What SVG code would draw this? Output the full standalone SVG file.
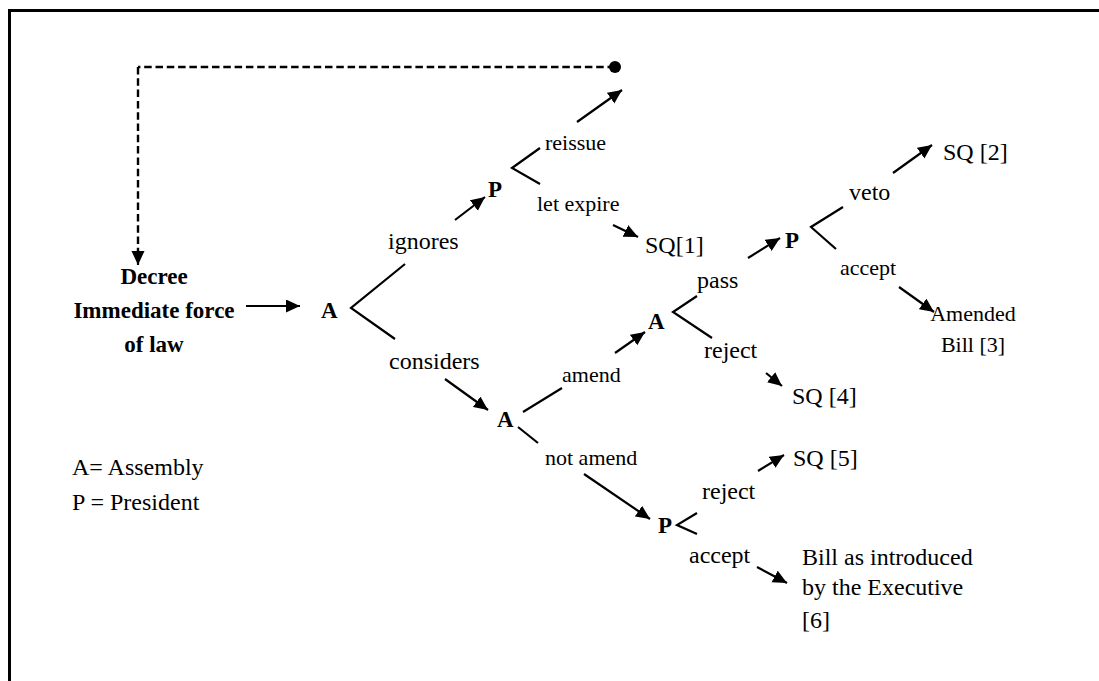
<svg xmlns="http://www.w3.org/2000/svg" width="1099" height="681" viewBox="0 0 1099 681">
  <style>
    .frame { stroke: #000; stroke-width: 3; fill: none; }
    .edge { stroke: #000; stroke-width: 2.2; fill: none; }
    .arrow { stroke: #000; stroke-width: 2.2; fill: none; marker-end: url(#head); }
    .dash { stroke: #000; stroke-width: 2.4; fill: none; stroke-dasharray: 7.5 3.8; }
    text { font-family: "Liberation Serif", "Times New Roman", serif; fill: #000; }
    .lbl { font-size: 22px; }
    .lbl2 { font-size: 24px; }
    .out { font-size: 24px; }
    .actor { font-size: 23px; font-weight: bold; }
    .title { font-size: 23px; font-weight: bold; text-anchor: middle; }
  </style>
  <defs>
    <marker id="head" markerUnits="userSpaceOnUse" markerWidth="16" markerHeight="14" refX="14" refY="6.5" orient="auto">
      <path d="M0,0 L14,6.5 L0,13 z" fill="#000"/>
    </marker>
  </defs>

  <rect width="1099" height="681" fill="#fff"/>

  <!-- frame: top and left rules -->
  <g id="frame">
    <line class="frame" x1="8" y1="10.5" x2="1099" y2="10.5"/>
    <line class="frame" x1="9.5" y1="9" x2="9.5" y2="681"/>
  </g>

  <!-- connectors -->
  <g id="connectors">
    <!-- reissue loop back to the decree -->
    <line class="dash" x1="615" y1="67" x2="138" y2="67"/>
    <line class="dash" x1="138" y1="67" x2="138" y2="252"/>
    <line class="edge" x1="138" y1="250" x2="138" y2="265" marker-end="url(#head)"/>
    <circle cx="615" cy="67" r="6" fill="#000"/>

    <!-- decision forks -->
    <polyline class="edge" points="405,264 351,308 395,339"/>
    <polyline class="edge" points="540,148 512,168 540,184"/>
    <line class="edge" x1="523" y1="412" x2="562" y2="388"/>
    <line class="edge" x1="518" y1="427" x2="538" y2="443"/>
    <polyline class="edge" points="697,296 673,312 712,338"/>
    <polyline class="edge" points="843,207 811,227 836,249"/>
    <polyline class="edge" points="697,513 677,525 697,534"/>

    <!-- arrows -->
    <line class="arrow" x1="246" y1="306" x2="300" y2="306"/>
    <line class="arrow" x1="455" y1="220" x2="485" y2="197"/>
    <line class="arrow" x1="577" y1="122" x2="622" y2="90"/>
    <line class="arrow" x1="613" y1="225" x2="638" y2="237"/>
    <line class="arrow" x1="445" y1="379" x2="488" y2="410"/>
    <line class="arrow" x1="615" y1="353" x2="645" y2="332"/>
    <line class="arrow" x1="748" y1="258" x2="780" y2="238"/>
    <line class="arrow" x1="893" y1="173" x2="932" y2="145"/>
    <line class="arrow" x1="899" y1="287" x2="934" y2="312"/>
    <line class="arrow" x1="766" y1="373" x2="782" y2="386"/>
    <line class="arrow" x1="584" y1="474" x2="650" y2="519"/>
    <line class="arrow" x1="758" y1="471" x2="784" y2="455"/>
    <line class="arrow" x1="757" y1="567" x2="787" y2="583"/>
  </g>

  <!-- start node -->
  <g id="decree">
    <text class="title" x="154" y="284">Decree</text>
    <text class="title" x="154" y="318">Immediate force</text>
    <text class="title" x="154" y="352">of law</text>
  </g>

  <g id="node-a1"><text class="actor" x="321" y="318">A</text></g>
  <g id="label-ignores"><text class="lbl2" x="388" y="249">ignores</text></g>
  <g id="label-considers"><text class="lbl2" x="389" y="369">considers</text></g>

  <g id="node-p1"><text class="actor" x="488" y="197">P</text></g>
  <g id="label-reissue"><text class="lbl" x="545" y="150">reissue</text></g>
  <g id="label-letexpire"><text class="lbl" x="537" y="211">let expire</text></g>
  <g id="sq1"><text class="out" x="645" y="253">SQ[1]</text></g>

  <g id="node-a2"><text class="actor" x="497" y="427">A</text></g>
  <g id="label-amend"><text class="lbl" x="562" y="382">amend</text></g>
  <g id="label-notamend"><text class="lbl" x="545" y="465">not amend</text></g>

  <g id="node-a3"><text class="actor" x="648" y="329">A</text></g>
  <g id="label-pass"><text class="lbl2" x="697" y="288">pass</text></g>
  <g id="label-reject1"><text class="lbl2" x="704" y="358">reject</text></g>
  <g id="sq4"><text class="out" x="792" y="404">SQ [4]</text></g>

  <g id="node-p2"><text class="actor" x="785" y="248">P</text></g>
  <g id="label-veto"><text class="lbl2" x="849" y="200">veto</text></g>
  <g id="sq2"><text class="out" x="943" y="160">SQ [2]</text></g>
  <g id="label-accept1"><text class="lbl" x="840" y="275">accept</text></g>
  <g id="amended-bill">
    <text class="lbl" x="973" y="321" text-anchor="middle">Amended</text>
    <text class="lbl" x="973" y="352" text-anchor="middle">Bill [3]</text>
  </g>

  <g id="node-p3"><text class="actor" x="658" y="533">P</text></g>
  <g id="label-reject2"><text class="lbl2" x="702" y="499">reject</text></g>
  <g id="sq5"><text class="out" x="793" y="466">SQ [5]</text></g>
  <g id="label-accept2"><text class="lbl2" x="689" y="563">accept</text></g>
  <g id="bill-introduced">
    <text class="out" x="802" y="565">Bill as introduced</text>
    <text class="out" x="802" y="595">by the Executive</text>
    <text class="out" x="802" y="628">[6]</text>
  </g>

  <g id="legend">
    <text class="out" x="72" y="475">A= Assembly</text>
    <text class="out" x="72" y="510">P = President</text>
  </g>
</svg>
